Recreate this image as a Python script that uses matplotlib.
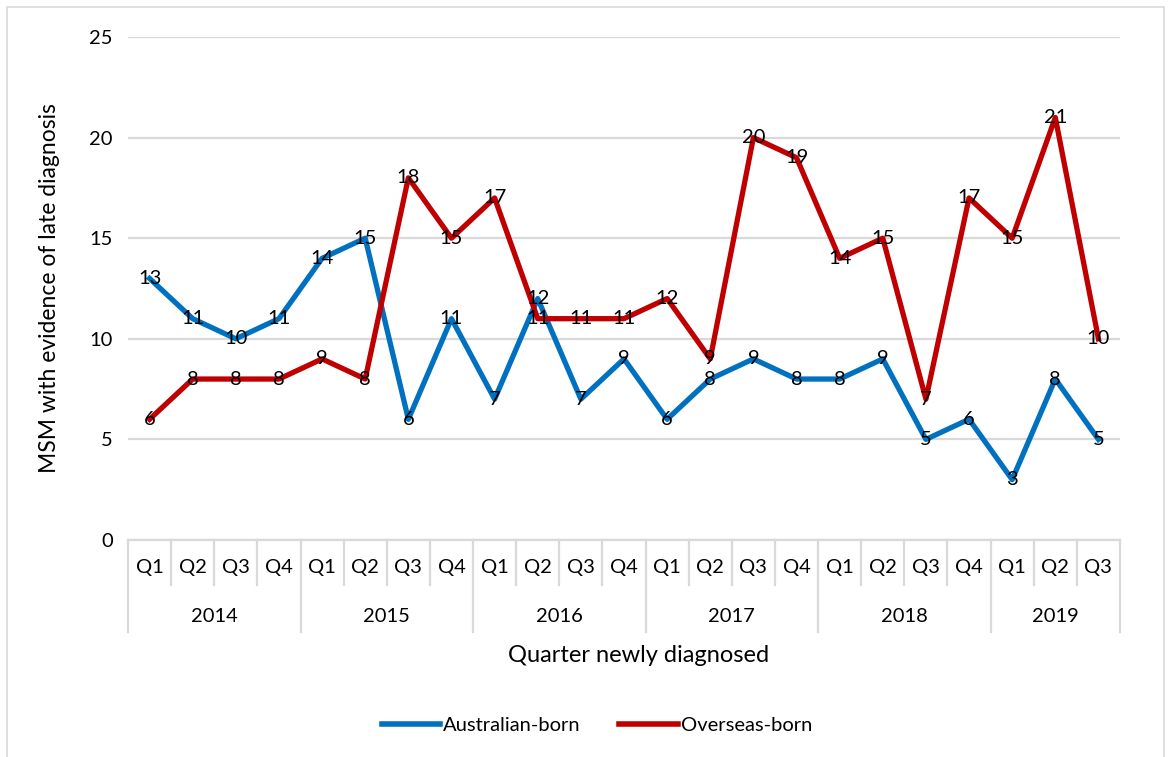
import numpy as np
import matplotlib.pyplot as plt
from matplotlib.patches import Rectangle
from matplotlib.lines import Line2D
import matplotlib.transforms as mtransforms

plt.rcParams['font.family'] = ['Lato', 'DejaVu Sans']

years = ['2014', '2015', '2016', '2017', '2018', '2019']
quarters_per_year = [4, 4, 4, 4, 4, 3]
australian = [13, 11, 10, 11, 14, 15, 6, 11, 7, 12, 7, 9, 6, 8, 9, 8, 8, 9, 5, 6, 3, 8, 5]
overseas = [6, 8, 8, 8, 9, 8, 18, 15, 17, 11, 11, 11, 12, 9, 20, 19, 14, 15, 7, 17, 15, 21, 10]

quarter_labels = []
for n in quarters_per_year:
    quarter_labels += ['Q%d' % (i + 1) for i in range(n)]

W, H = 1170, 757
fig = plt.figure(figsize=(W / 100, H / 100), dpi=100)
x0, x1, ytop, ybot = 128, 1120, 37, 540
ax = fig.add_axes([x0 / W, 1 - ybot / H, (x1 - x0) / W, (ybot - ytop) / H])

n = len(australian)
x = np.arange(n)
ax.set_xlim(-0.5, n - 0.5)
ax.set_ylim(0, 25)
ax.set_yticks([0, 5, 10, 15, 20, 25])
ax.yaxis.grid(True, color='#d9d9d9', lw=1.6)
ax.set_axisbelow(True)
for s in ax.spines.values():
    s.set_visible(False)
ax.tick_params(axis='y', length=0, labelsize=14.5, pad=11)
ax.set_xticks([])

blue = '#0070C0'
red = '#C00000'
ax.plot(x, australian, color=blue, lw=3.8, solid_joinstyle='round', label='Australian-born')
ax.plot(x, overseas, color=red, lw=3.8, solid_joinstyle='round', label='Overseas-born')
for xi, v in zip(x, australian):
    ax.text(xi, v, str(v), ha='center', va='center', fontsize=14.5)
for xi, v in zip(x, overseas):
    ax.text(xi, v, str(v), ha='center', va='center', fontsize=14.5)

ax.set_ylabel('MSM with evidence of late diagnosis', fontsize=16.5)
ax.yaxis.set_label_coords(-(x0 - 60) / (x1 - x0), 0.5)

# two-level category axis drawn under the plot
trans = mtransforms.blended_transform_factory(ax.transData, ax.transAxes)
unit = (ybot - ytop)
q_bot = -(585 - ybot) / unit
y_bot = -(632 - ybot) / unit
grey = '#d9d9d9'
ax.plot([-0.5, n - 0.5], [0, 0], transform=trans, color=grey, lw=1.6, clip_on=False)
start = 0
bounds = [0]
for cnt in quarters_per_year:
    start += cnt
    bounds.append(start)
for i in range(n + 1):
    xb = i - 0.5
    bottom = y_bot if i in bounds else q_bot
    ax.plot([xb, xb], [0, bottom], transform=trans, color=grey, lw=1.6, clip_on=False)
for i, lab in enumerate(quarter_labels):
    ax.text(i, -(568 - ybot) / unit, lab, transform=trans, ha='center', va='center', fontsize=14.5)
for k, yr in enumerate(years):
    mid = (bounds[k] + bounds[k + 1] - 1) / 2
    ax.text(mid, -(616 - ybot) / unit, yr, transform=trans, ha='center', va='center', fontsize=14.5)

fig.text(639 / W, 1 - 656 / H, 'Quarter newly diagnosed', ha='center', va='center', fontsize=17)

handles = [Line2D([], [], color=blue, lw=4), Line2D([], [], color=red, lw=4)]
fig.legend(handles, ['Australian-born', 'Overseas-born'], loc='center',
           bbox_to_anchor=(597 / W, 1 - 725 / H), ncol=2, frameon=False,
           fontsize=14.5, handlelength=2.9, handletextpad=0.15, columnspacing=1.9)

fig.patches.append(Rectangle((7 / W, -0.01), (1164 - 7) / W, 1 - 7 / H + 0.01,
                             transform=fig.transFigure, fill=False, ec='#d9d9d9', lw=1.2))

fig.savefig('out.png', dpi=100)
